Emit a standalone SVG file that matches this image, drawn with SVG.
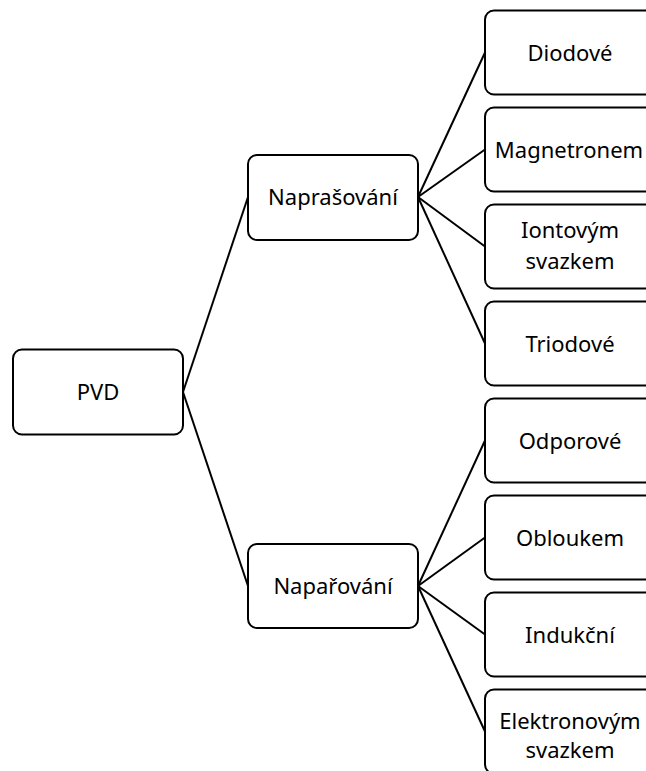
<svg xmlns="http://www.w3.org/2000/svg" width="646" height="771" viewBox="0 0 646 771">
<style>
.box{fill:#fff;stroke:#000;stroke-width:2}
.lbl{font-family:"Noto Sans","Open Sans",sans-serif;font-size:22px;fill:#000;text-anchor:middle}
.con{stroke:#000;stroke-width:2;fill:none}
</style>
<rect width="646" height="771" fill="#fff"/>
<g id="connectors">
<line class="con" x1="183" y1="392" x2="248" y2="197"/>
<line class="con" x1="183" y1="392" x2="248" y2="586"/>
<line class="con" x1="418" y1="197" x2="485" y2="52.5"/>
<line class="con" x1="418" y1="197" x2="485" y2="149.5"/>
<line class="con" x1="418" y1="197" x2="485" y2="246.5"/>
<line class="con" x1="418" y1="197" x2="485" y2="343.5"/>
<line class="con" x1="418" y1="586" x2="485" y2="440.5"/>
<line class="con" x1="418" y1="586" x2="485" y2="537.5"/>
<line class="con" x1="418" y1="586" x2="485" y2="634.5"/>
<line class="con" x1="418" y1="586" x2="485" y2="731.5"/>
</g>
<g id="pvd"><rect class="box" x="13" y="349.5" width="170" height="85" rx="9"/><text class="lbl" x="98" y="400">PVD</text></g>
<g id="naprasovani"><rect class="box" x="248" y="155" width="170" height="85" rx="9"/><text class="lbl" x="333" y="205">Naprašování</text></g>
<g id="naparovani"><rect class="box" x="248" y="544" width="170" height="84" rx="9"/><text class="lbl" x="333" y="594">Napařování</text></g>
<g id="diodove"><rect class="box" x="485" y="10.5" width="170" height="84" rx="9"/><text class="lbl" x="570" y="61">Diodové</text></g>
<g id="magnetronem"><rect class="box" x="485" y="107.5" width="170" height="84" rx="9"/><text class="lbl" x="569" y="157.5">Magnetronem</text></g>
<g id="iontovym"><rect class="box" x="485" y="204.5" width="170" height="84" rx="9"/><text class="lbl" x="570" y="238">Iontovým</text><text class="lbl" x="570" y="268.5">svazkem</text></g>
<g id="triodove"><rect class="box" x="485" y="301.5" width="170" height="84" rx="9"/><text class="lbl" x="570" y="351.5">Triodové</text></g>
<g id="odporove"><rect class="box" x="485" y="398.5" width="170" height="84" rx="9"/><text class="lbl" x="570" y="448.5">Odporové</text></g>
<g id="obloukem"><rect class="box" x="485" y="495.5" width="170" height="84" rx="9"/><text class="lbl" x="570" y="545.5">Obloukem</text></g>
<g id="indukcni"><rect class="box" x="485" y="592.5" width="170" height="84" rx="9"/><text class="lbl" x="570" y="642.5">Indukční</text></g>
<g id="elektronovym"><rect class="box" x="485" y="689.5" width="170" height="84" rx="9"/><text class="lbl" x="570" y="729">Elektronovým</text><text class="lbl" x="570" y="758">svazkem</text></g>
</svg>
